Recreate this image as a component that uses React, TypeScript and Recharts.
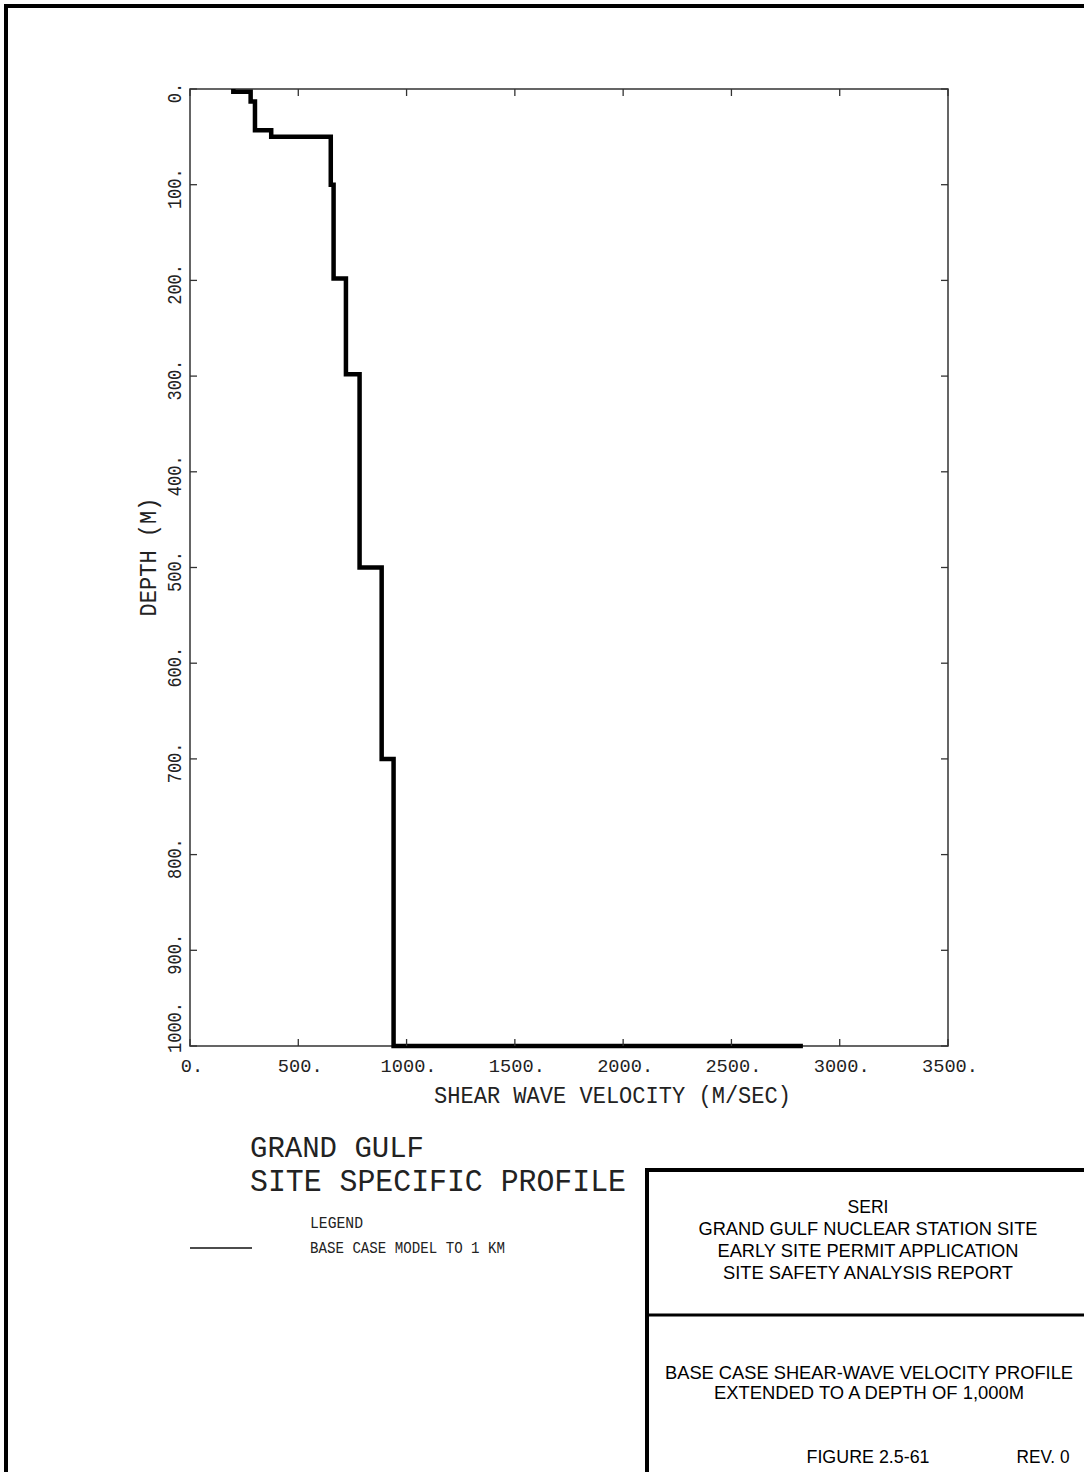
import React from 'react';
import { ScatterChart, Scatter, XAxis, YAxis, ReferenceArea } from 'recharts';

// ---- data ----
const layerVelocities = [200, 280, 300, 375, 650, 663, 720, 783, 885, 940];
const layerBottoms = [3, 13, 43, 50, 100, 198, 298, 500, 700, 1000];
const halfspaceVelocity = 2830;
const velocityTicks = [0, 500, 1000, 1500, 2000, 2500, 3000, 3500];
const velocityTickLabels = ['0.', '500.', '1000.', '1500.', '2000.', '2500.', '3000.', '3500.'];
const depthTicks = [0, 100, 200, 300, 400, 500, 600, 700, 800, 900, 1000];
const depthTickLabels = ['0.', '100.', '200.', '300.', '400.', '500.', '600.', '700.', '800.', '900.', '1000.'];
const xAxisTitle = 'SHEAR WAVE VELOCITY (M/SEC)';
const yAxisTitle = 'DEPTH (M)';
const plotTitle = ['GRAND GULF', 'SITE SPECIFIC PROFILE'];
const legendHeader = 'LEGEND';
const legendLabel = 'BASE CASE MODEL TO 1 KM';
const blockTop = ['SERI', 'GRAND GULF NUCLEAR STATION SITE', 'EARLY SITE PERMIT APPLICATION', 'SITE SAFETY ANALYSIS REPORT'];
const blockBottom = ['BASE CASE SHEAR-WAVE VELOCITY PROFILE', 'EXTENDED TO A DEPTH OF 1,000M'];
const figureLabel = 'FIGURE 2.5-61';
const revLabel = 'REV. 0';

// build step profile from layers
const profile: { v: number; d: number }[] = [];
{
  let top = 0;
  layerVelocities.forEach((v, i) => {
    profile.push({ v, d: top });
    profile.push({ v, d: layerBottoms[i] });
    top = layerBottoms[i];
  });
  profile.push({ v: halfspaceVelocity, d: top });
}

// ---- layout ----
const W = 1084;
const H = 1472;
const PLOT = { left: 190, right: 948, top: 89, bottom: 1046 };
const MONO = "'Liberation Mono', 'DejaVu Sans Mono', monospace";
const SANS = "'Liberation Sans', Arial, sans-serif";
const INK = '#222';
const TICK = 7;

function labelFor(arr: string[], i: number, v: number) {
  return i >= 0 ? arr[i] : `${v}.`;
}

const XTick = (props: any) => {
  const { x, y, payload } = props;
  const i = velocityTicks.indexOf(payload.value);
  const label = labelFor(velocityTickLabels, i, payload.value);
  return (
    <g>
      <line x1={x} y1={y} x2={x} y2={y - TICK} stroke="#333" strokeWidth={1.3} />
      <line x1={x} y1={PLOT.top} x2={x} y2={PLOT.top + TICK} stroke="#333" strokeWidth={1.3} />
      <text
        x={x + 2}
        y={y + 26}
        textAnchor="middle"
        fontFamily={MONO}
        fontSize={18}
        fill={INK}
        textLength={label.length * 11.2}
        lengthAdjust="spacingAndGlyphs"
      >
        {label}
      </text>
    </g>
  );
};

const YTick = (props: any) => {
  const { x, y, payload } = props;
  const i = depthTicks.indexOf(payload.value);
  const label = labelFor(depthTickLabels, i, payload.value);
  const isLast = i === depthTicks.length - 1;
  const ty = isLast ? y + 7 : y + 4;
  const tx = 181;
  return (
    <g>
      <line x1={x} y1={y} x2={x + TICK} y2={y} stroke="#333" strokeWidth={1.3} />
      <line x1={PLOT.right} y1={y} x2={PLOT.right - TICK} y2={y} stroke="#333" strokeWidth={1.3} />
      <text
        x={tx}
        y={ty}
        transform={`rotate(-90, ${tx}, ${ty})`}
        textAnchor={isLast ? 'start' : 'middle'}
        fontFamily={MONO}
        fontSize={21}
        fill={INK}
        textLength={label.length * 10.2}
        lengthAdjust="spacingAndGlyphs"
      >
        {label}
      </text>
    </g>
  );
};

const Nothing = () => <g />;

const MonoText = ({ x, y, size, len, anchor = 'start', rotate, children }: any) => (
  <text
    x={x}
    y={y}
    fontFamily={MONO}
    fontSize={size}
    fill={INK}
    textAnchor={anchor}
    textLength={len}
    lengthAdjust="spacingAndGlyphs"
    transform={rotate ? `rotate(${rotate}, ${x}, ${y})` : undefined}
  >
    {children}
  </text>
);

const SansText = ({ x, y, len, anchor = 'middle', children }: any) => (
  <text
    x={x}
    y={y}
    fontFamily={SANS}
    fontSize={18}
    fill="#000"
    textAnchor={anchor}
    textLength={len}
    lengthAdjust="spacingAndGlyphs"
  >
    {children}
  </text>
);

export default function App() {
  const blockTopBaselines = [1213, 1235, 1257, 1279];
  const blockTopWidths = [41, 339, 301, 290];
  const blockBottomBaselines = [1379, 1399];
  const blockBottomWidths = [408, 310];
  return (
    <div style={{ position: 'absolute', left: 0, top: 0, width: W, height: H, background: '#fff', overflow: 'hidden' }}>
      <div style={{ position: 'absolute', left: 0, top: 0 }}>
        <ScatterChart
          width={W}
          height={H}
          margin={{ top: PLOT.top, right: W - PLOT.right, bottom: H - PLOT.bottom - 60, left: 0 }}
        >
          <XAxis
            type="number"
            dataKey="v"
            domain={[0, 3500]}
            ticks={velocityTicks}
            interval={0}
            height={60}
            tickSize={0}
            tickMargin={0}
            tickLine={false}
            axisLine={false}
            tick={<XTick />}
          />
          <YAxis
            type="number"
            dataKey="d"
            domain={[0, 1000]}
            reversed
            ticks={depthTicks}
            interval={0}
            width={PLOT.left}
            tickSize={0}
            tickMargin={0}
            tickLine={false}
            axisLine={false}
            tick={<YTick />}
          />
          <ReferenceArea
            x1={0}
            x2={3500}
            y1={0}
            y2={1000}
            fill="none"
            fillOpacity={0}
            stroke="#333"
            strokeWidth={1.5}
            ifOverflow="visible"
          />
          <Scatter
            data={profile}
            line={{ stroke: '#000', strokeWidth: 4.5 }}
            lineType="joint"
            shape={<Nothing />}
            isAnimationActive={false}
          />
        </ScatterChart>
      </div>
      <svg
        width={W}
        height={H}
        style={{ position: 'absolute', left: 0, top: 0, pointerEvents: 'none' }}
      >
        {/* page border */}
        <line x1={6} y1={4} x2={6} y2={H} stroke="#000" strokeWidth={4} />
        <line x1={4} y1={6} x2={W} y2={6} stroke="#000" strokeWidth={4} />

        {/* axis titles */}
        <MonoText x={434} y={1103} size={23} len={357}>{xAxisTitle}</MonoText>
        <MonoText x={156} y={557} size={23} len={119} anchor="middle" rotate={-90}>{yAxisTitle}</MonoText>

        {/* plot title */}
        <MonoText x={250} y={1157} size={29} len={174}>{plotTitle[0]}</MonoText>
        <MonoText x={250} y={1191} size={31} len={376}>{plotTitle[1]}</MonoText>

        {/* legend */}
        <MonoText x={310} y={1228} size={17} len={53}>{legendHeader}</MonoText>
        <line x1={190} y1={1248} x2={252} y2={1248} stroke="#111" strokeWidth={1.5} />
        <MonoText x={310} y={1253} size={17} len={195}>{legendLabel}</MonoText>

        {/* title block */}
        <line x1={647} y1={1168} x2={647} y2={H} stroke="#000" strokeWidth={4} />
        <line x1={645} y1={1170} x2={W} y2={1170} stroke="#000" strokeWidth={4} />
        <line x1={647} y1={1315} x2={W} y2={1315} stroke="#000" strokeWidth={3} />
        {blockTop.map((t, i) => (
          <SansText key={t} x={868} y={blockTopBaselines[i]} len={blockTopWidths[i]}>{t}</SansText>
        ))}
        {blockBottom.map((t, i) => (
          <SansText key={t} x={869} y={blockBottomBaselines[i]} len={blockBottomWidths[i]}>{t}</SansText>
        ))}
        <SansText x={868} y={1463} len={123}>{figureLabel}</SansText>
        <SansText x={1043} y={1463} len={53}>{revLabel}</SansText>
      </svg>
    </div>
  );
}
